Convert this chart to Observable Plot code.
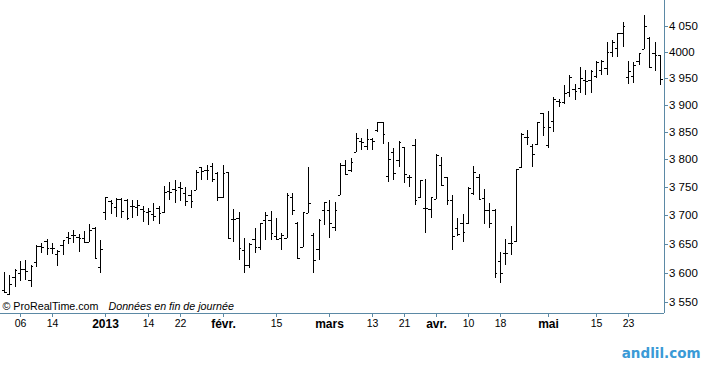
<!DOCTYPE html>
<html lang="fr">
<head>
<meta charset="utf-8">
<script src="https://cdn.jsdelivr.net/npm/d3@7"></script>
<script src="https://cdn.jsdelivr.net/npm/@observablehq/plot@0.6"></script>
<style>
html,body{margin:0;padding:0;background:#fff;}
#chart svg{display:block;}
</style>
</head>
<body>
<div id="chart"></div>
<script>
// Trading days (Euronext Paris), Dec 2012 - May 2013
const decDays = [3,4,5,6,7,10,11,12,13,14,17,18,19,20,21,24,27,28,31];
const janDays = [2,3,4,7,8,9,10,11,14,15,16,17,18,21,22,23,24,25,28,29,30,31];
const febDays = [1,4,5,6,7,8,11,12,13,14,15,18,19,20,21,22,25,26,27,28];
const marDays = [1,4,5,6,7,8,11,12,13,14,15,18,19,20,21,22,25,26,27,28];
const aprDays = [2,3,4,5,8,9,10,11,12,15,16,17,18,19,22,23,24,25,26,29,30];
const mayDays = [2,3,6,7,8,9,10,13,14,15,16,17,20,21,22,23,24,27,28,29,30,31];
const monthKeys = ["2012-12","2013-01","2013-02","2013-03","2013-04","2013-05"];
const monthDays = [decDays, janDays, febDays, marDays, aprDays, mayDays];
const dates = monthKeys.flatMap((m, k) => monthDays[k].map(d => m + "-" + String(d).padStart(2, "0")));

const open = [
3570,3564,3592,3600,3607,3588,3618,3646,3655,3643,
3633,3648,3662,3666,3662,3661,3654,3678,3610,3705,
3725,3714,3729,3727,3716,3715,3712,3705,3703,3713,
3705,3743,3747,3750,3740,3736,3745,3786,3781,3789,
3776,3733,3777,3694,3695,3640,3614,3658,3645,3692,
3692,3663,3660,3660,3732,3686,3645,3704,3665,3641,
3710,3710,3680,3736,3790,3781,3814,3833,3824,3837,
3853,3868,3770,3814,3799,3823,3769,3826,3732,3713,
3711,3729,3790,3768,3727,3678,3687,3686,3739,3768,
3730,3710,3710,3620,3634,3651,3655,3786,3841,3824,
3828,3885,3826,3871,3908,3906,3925,3930,3931,3947,
3947,3955,3966,3969,4001,4007,4036,3953,3955,3982,
4005,4026,3998,3995];
const high = [
3602,3596,3606,3621,3622,3614,3648,3651,3658,3651,
3640,3657,3670,3675,3668,3672,3685,3680,3657,3733,
3727,3730,3731,3729,3727,3727,3716,3713,3722,3716,
3753,3760,3763,3760,3751,3745,3781,3786,3790,3793,
3777,3790,3778,3711,3706,3660,3651,3678,3686,3706,
3708,3695,3669,3739,3739,3689,3706,3787,3669,3694,
3724,3727,3724,3793,3799,3802,3849,3839,3855,3839,
3869,3869,3831,3820,3834,3823,3772,3837,3763,3764,
3733,3810,3805,3769,3736,3695,3702,3750,3788,3774,
3746,3721,3711,3635,3658,3681,3783,3849,3854,3828,
3869,3886,3889,3915,3912,3938,3956,3940,3972,3966,
3966,3982,3985,4020,4023,4036,4058,3983,3981,3998,
4071,4028,4020,3995];
const low = [
3565,3562,3575,3586,3587,3576,3610,3634,3631,3633,
3611,3631,3650,3651,3636,3651,3654,3624,3599,3692,
3703,3697,3695,3692,3695,3698,3689,3683,3690,3684,
3704,3727,3722,3725,3716,3713,3745,3763,3763,3760,
3725,3730,3659,3654,3622,3600,3608,3634,3640,3657,
3657,3657,3640,3660,3701,3625,3645,3704,3599,3622,
3683,3660,3672,3736,3772,3778,3814,3817,3817,3817,
3851,3829,3760,3763,3787,3757,3750,3718,3730,3669,
3695,3729,3752,3718,3640,3663,3654,3685,3736,3727,
3685,3678,3591,3583,3614,3631,3654,3784,3826,3787,
3826,3842,3820,3851,3897,3902,3915,3909,3922,3919,
3922,3950,3956,3956,3991,3991,4010,3939,3941,3975,
4005,3972,3963,3937];
const close = [
3567,3581,3604,3606,3603,3612,3647,3645,3643,3642,
3638,3656,3661,3665,3660,3654,3675,3625,3641,3733,
3721,3729,3707,3695,3717,3718,3707,3708,3699,3704,
3742,3742,3745,3749,3725,3725,3778,3780,3781,3764,
3733,3776,3660,3694,3643,3614,3649,3645,3686,3701,
3669,3658,3666,3736,3710,3625,3706,3721,3622,3692,
3724,3686,3710,3790,3774,3796,3839,3832,3837,3833,
3869,3846,3800,3776,3831,3774,3769,3727,3763,3713,
3732,3808,3754,3727,3664,3667,3671,3748,3778,3729,
3710,3686,3599,3599,3634,3651,3783,3846,3841,3810,
3869,3860,3860,3912,3906,3922,3953,3927,3951,3945,
3963,3981,3982,4001,4020,4036,4050,3963,3975,3998,
4050,3972,3995,3948];

const xTickDates = ["2012-12-06","2012-12-14","2013-01-02","2013-01-14","2013-01-22","2013-02-01","2013-02-15","2013-03-01","2013-03-13","2013-03-21","2013-04-02","2013-04-10","2013-04-18","2013-05-02","2013-05-15","2013-05-23"];
const xTickLabels = ["06","14","2013","14","22","févr.","15","mars","13","21","avr.","10","18","mai","15","23"];
const xTickBold = [false,false,true,false,false,true,false,true,false,false,true,false,false,true,false,false];
const yTicks = [3550,3600,3650,3700,3750,3800,3850,3900,3950,4000,4050];
const yTickLabels = ["3 550","3 600","3 650","3 700","3 750","3 800","3 850","3 900","3 950","4000","4 050"];

const data = dates.map((date, i) => ({i, date, o: open[i], h: high[i], l: low[i], c: close[i]}));
const tickIdx = xTickDates.map(d => dates.indexOf(d));
const normalTicks = tickIdx.filter((_, k) => !xTickBold[k]);
const boldTicks = tickIdx.filter((_, k) => xTickBold[k]);
const labelOf = i => xTickLabels[tickIdx.indexOf(i)];

const axisColor = "#5b89a5";
const xDomain = [-0.75, 123.75];
const yDomain = [3531.4, 4100.6];
const barStyle = {stroke: "#000", strokeWidth: 1, shapeRendering: "crispEdges"};

const chart = Plot.plot({
  width: 709,
  height: 368,
  marginTop: 0,
  marginLeft: 0,
  marginRight: 45,
  marginBottom: 55,
  style: {fontFamily: "'Liberation Sans', Arial, sans-serif", fontSize: "11px", background: "#fff", color: "#000", overflow: "visible"},
  x: {type: "linear", domain: xDomain, round: true, axis: null, label: null},
  y: {type: "log", domain: yDomain, round: true, axis: null, label: null},
  marks: [
    Plot.ruleY([yDomain[0]], {stroke: axisColor, shapeRendering: "crispEdges"}),
    Plot.ruleX([xDomain[1]], {stroke: axisColor, shapeRendering: "crispEdges"}),
    Plot.axisY(yTicks, {anchor: "right", label: null, tickSize: 3, tickPadding: 1.5, stroke: axisColor, fill: "#000", fontSize: 11.5, tickFormat: v => yTickLabels[yTicks.indexOf(v)]}),
    Plot.axisX(normalTicks, {anchor: "bottom", label: null, tickSize: 4, tickPadding: 2, stroke: axisColor, fill: "#000", fontSize: 10.5, tickFormat: labelOf}),
    Plot.axisX(boldTicks, {anchor: "bottom", label: null, tickSize: 4, tickPadding: 1.5, stroke: axisColor, fill: "#000", fontSize: 12, fontWeight: "bold", tickFormat: labelOf}),
    Plot.ruleX(data, {x: "i", y1: "l", y2: "h", ...barStyle}),
    Plot.ruleY(data, {y: "o", x1: d => d.i - 0.45, x2: "i", ...barStyle}),
    Plot.ruleY(data, {y: "c", x1: "i", x2: d => d.i + 0.5, ...barStyle}),
    Plot.text(["© ProRealTime.com"], {frameAnchor: "bottom-left", textAnchor: "start", lineAnchor: "bottom", dx: 2, dy: -4, fontSize: 10.7, fill: "#000"}),
    Plot.text(["Données en fin de journée"], {frameAnchor: "bottom-left", textAnchor: "start", lineAnchor: "bottom", dx: 108, dy: -4, fontSize: 10.7, fontStyle: "italic", fill: "#000"}),
    Plot.text(["andlil.com"], {frameAnchor: "bottom-right", textAnchor: "end", lineAnchor: "bottom", dx: 36, dy: 44, fontFamily: "'DejaVu Sans', Verdana, sans-serif", fontWeight: "bold", fontSize: 13.5, fill: "#3a9ad6"})
  ]
});
document.getElementById("chart").appendChild(chart);
</script>
</body>
</html>
